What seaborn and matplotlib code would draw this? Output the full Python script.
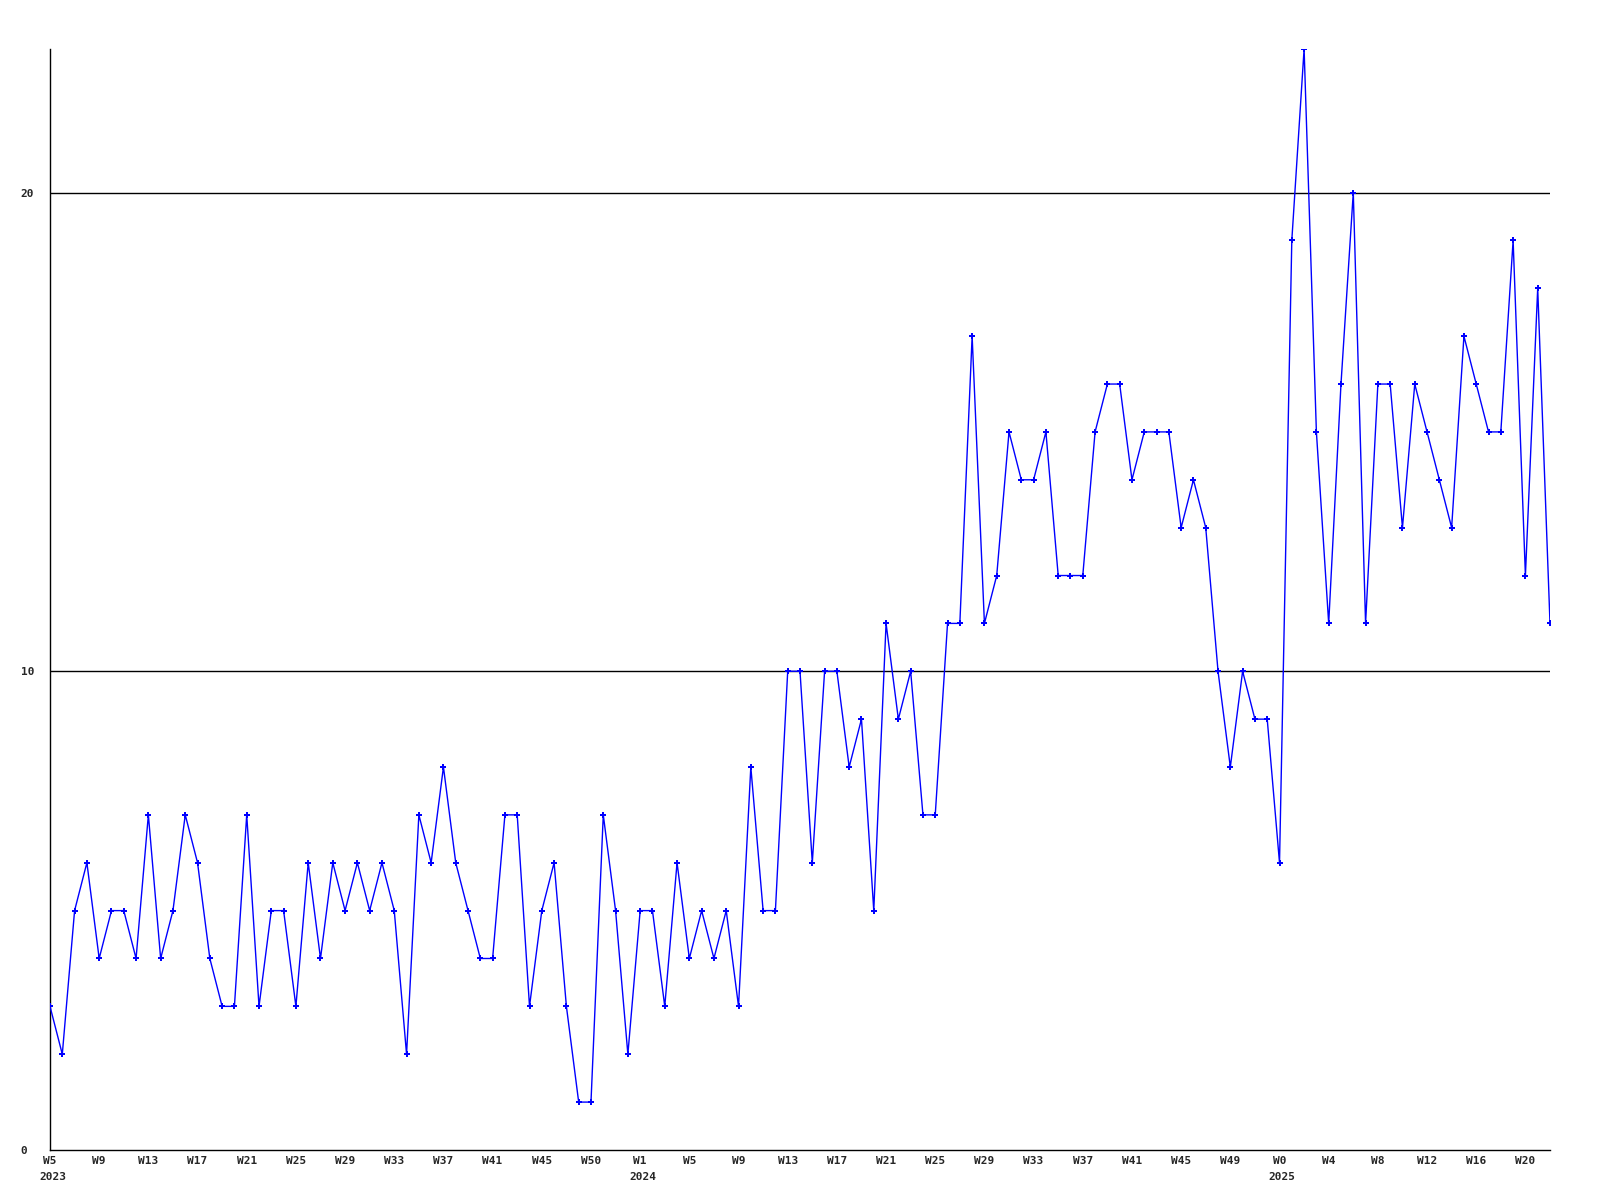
import numpy as np
import pandas as pd
import seaborn as sns
import matplotlib
matplotlib.use("Agg")
import matplotlib.pyplot as plt
import matplotlib.transforms as mtransforms

# weekly counts (one value per week)
values = [3, 2, 5, 6, 4, 5, 5, 4, 7, 4,
          5, 7, 6, 4, 3, 3, 7, 3, 5, 5,
          3, 6, 4, 6, 5, 6, 5, 6, 5, 2,
          7, 6, 8, 6, 5, 4, 4, 7, 7, 3,
          5, 6, 3, 1, 1, 7, 5, 2, 5, 5,
          3, 6, 4, 5, 4, 5, 3, 8, 5, 5,
          10, 10, 6, 10, 10, 8, 9, 5, 11, 9,
          10, 7, 7, 11, 11, 17, 11, 12, 15, 14,
          14, 15, 12, 12, 12, 15, 16, 16, 14, 15,
          15, 15, 13, 14, 13, 10, 8, 10, 9, 9,
          6, 19, 23, 15, 11, 16, 20, 11, 16, 16,
          13, 16, 15, 14, 13, 17, 16, 15, 15, 19,
          12, 18, 11]

week_labels = ["W5", "W9", "W13", "W17", "W21", "W25", "W29", "W33", "W37", "W41",
               "W45", "W50", "W1", "W5", "W9", "W13", "W17", "W21", "W25", "W29",
               "W33", "W37", "W41", "W45", "W49", "W0", "W4", "W8", "W12", "W16", "W20"]
year_pos = [0, 48, 100]
year_labels = ["2023", "2024", "2025"]
y_ticks = [0, 10, 20]

df = pd.DataFrame({"week": np.arange(len(values)), "count": values})

sns.set_style("white")
plt.rcParams['font.family'] = ['DejaVu Sans Mono', 'DejaVu Sans']
plt.rcParams['font.weight'] = 'bold'

fig = plt.figure(figsize=(16, 12), dpi=100)
ax = fig.add_axes([0.03125, 0.0417, 0.9375, 0.9175])

# horizontal reference lines
for yv in y_ticks[1:]:
    ax.axhline(yv, color='black', lw=1, zorder=1)

sns.lineplot(data=df, x="week", y="count", ax=ax, color='#0000ff', lw=1,
             marker='P', markersize=4.5, markeredgewidth=0, zorder=3)

ax.set_xlim(0, len(values) - 1)
ax.set_ylim(0, max(values))

tick_pos = list(range(0, len(values), 4))[:len(week_labels)]
ax.set_xticks(tick_pos)
ax.set_xticklabels(week_labels, fontsize=8, fontweight='bold')
# week labels sit a little left of their point
shift = mtransforms.ScaledTranslation(-4 / 100, 0, fig.dpi_scale_trans)
for lab in ax.get_xticklabels():
    lab.set_transform(lab.get_transform() + shift)

# year under the first week of each year
for p, yr in zip(year_pos, year_labels):
    ax.annotate(yr, xy=(p, 0), xycoords=('data', 'axes fraction'),
                xytext=(2, -16), textcoords='offset points',
                ha='center', va='top', fontsize=8, fontweight='bold',
                annotation_clip=False)

ax.set_yticks(y_ticks)
ax.set_yticklabels([str(v) for v in y_ticks], fontsize=8, fontweight='bold', ha='left')
ax.tick_params(axis='x', length=0, pad=4)
ax.tick_params(axis='y', length=0, pad=21)

ax.set_xlabel("")
ax.set_ylabel("")
for s in ['top', 'right']:
    ax.spines[s].set_visible(False)
for s in ['left', 'bottom']:
    ax.spines[s].set_color('black')
    ax.spines[s].set_linewidth(1)

fig.savefig("out.png", dpi=100)
